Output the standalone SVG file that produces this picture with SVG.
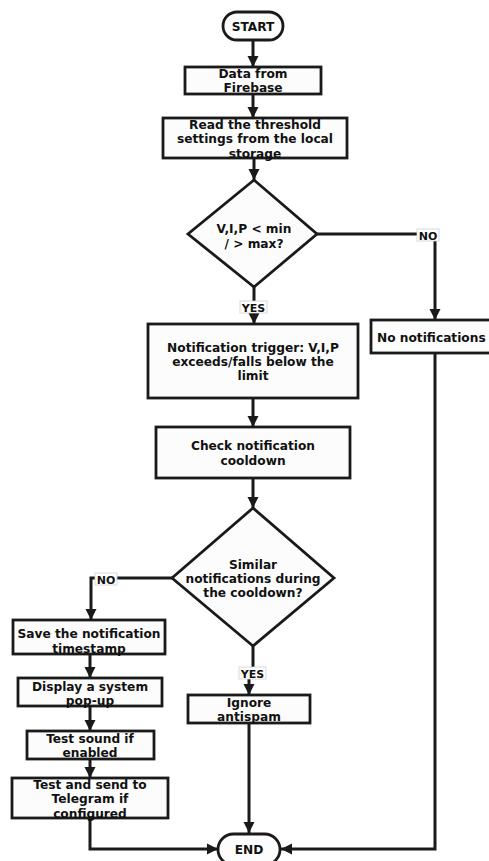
<svg xmlns="http://www.w3.org/2000/svg" width="489" height="861" viewBox="0 0 489 861">
<defs>
<marker id="arr" markerUnits="userSpaceOnUse" markerWidth="12" markerHeight="12" viewBox="0 0 12 12" refX="11" refY="6" orient="auto">
<path d="M0,0.5 L11,6 L0,11.5 Z" fill="#1a1a1a"/>
</marker>
<style>
.box{fill:#fcfcfc;stroke:#1a1a1a;stroke-width:2.8}
.t{font-family:"DejaVu Sans",Verdana,sans-serif;font-weight:bold;font-size:12.2px;fill:#111;text-anchor:middle}
.lt{font-family:"DejaVu Sans",Verdana,sans-serif;font-weight:bold;font-size:11px;fill:#111;text-anchor:middle}
.lb{fill:#fff;stroke:#cfcfcf;stroke-width:0.8}
.c{fill:none;stroke:#1a1a1a;stroke-width:3;marker-end:url(#arr)}
</style>
</defs>
<rect width="489" height="861" fill="#ffffff"/>
<g id="connectors">
<path class="c" d="M253,40 V67"/>
<path class="c" d="M253,94 V118"/>
<path class="c" d="M254,158 V180"/>
<path class="c" d="M317,234 H435 V320"/>
<path class="c" d="M254,287 V324"/>
<path class="c" d="M253,398 V427"/>
<path class="c" d="M253,478 V508"/>
<path class="c" d="M172,578 H91 V620"/>
<path class="c" d="M253,646 V673 H249 V695"/>
<path class="c" d="M90,654 V678"/>
<path class="c" d="M90,706 V731"/>
<path class="c" d="M90,759 V778"/>
<path class="c" d="M90,818 V849 H218"/>
<path class="c" d="M249,723 V833"/>
<path class="c" d="M435,353 V849 H281"/>
</g>
<g id="label-no1"><rect class="lb" x="417" y="229" width="22" height="12"/><text class="lt" x="428" y="239.5">NO</text></g>
<g id="label-yes1"><rect class="lb" x="240" y="301" width="27" height="12"/><text class="lt" x="253.5" y="311.5">YES</text></g>
<g id="label-no2"><rect class="lb" x="95" y="573" width="22" height="12"/><text class="lt" x="106" y="583.5">NO</text></g>
<g id="label-yes2"><rect class="lb" x="239" y="667" width="27" height="12"/><text class="lt" x="252.5" y="677.5">YES</text></g>
<g id="start"><rect class="box" x="223" y="12" width="60" height="28" rx="14"/><text class="t" x="253" y="30.5">START</text></g>
<g id="data"><rect class="box" x="185" y="67" width="136" height="27"/><text class="t" x="253" y="77.6">Data from</text><text class="t" x="253" y="91.9">Firebase</text></g>
<g id="read"><rect class="box" x="163" y="118" width="184" height="40"/><text class="t" x="255" y="129">Read the threshold</text><text class="t" x="255" y="143.3">settings from the local</text><text class="t" x="255" y="157.6">storage</text></g>
<g id="decision1"><polygon class="box" points="254,180 317,234 254,287 188,234"/><text class="t" x="254" y="233.2">V,I,P &lt; min</text><text class="t" x="254" y="247.5">/ &gt; max?</text></g>
<g id="nonotif"><rect class="box" x="371" y="320" width="130" height="33"/><text class="t" x="377" y="341.5" style="text-anchor:start">No notifications</text></g>
<g id="trigger"><rect class="box" x="148" y="324" width="210" height="74"/><text class="t" x="253" y="351.7">Notification trigger: V,I,P</text><text class="t" x="253" y="366">exceeds/falls below the</text><text class="t" x="253" y="380.3">limit</text></g>
<g id="check"><rect class="box" x="156" y="427" width="194" height="51"/><text class="t" x="253" y="450.2">Check notification</text><text class="t" x="253" y="464.5">cooldown</text></g>
<g id="decision2"><polygon class="box" points="253,508 334,578 253,646 172,578"/><text class="t" x="253" y="568.5">Similar</text><text class="t" x="253" y="582.8">notifications during</text><text class="t" x="253" y="597.1">the cooldown?</text></g>
<g id="save"><rect class="box" x="13" y="620" width="152" height="34"/><text class="t" x="89" y="638.2">Save the notification</text><text class="t" x="89" y="652.5">timestamp</text></g>
<g id="display"><rect class="box" x="18" y="678" width="144" height="28"/><text class="t" x="90" y="690.7">Display a system</text><text class="t" x="90" y="705">pop-up</text></g>
<g id="ignore"><rect class="box" x="188" y="695" width="122" height="28"/><text class="t" x="249" y="706.7">Ignore</text><text class="t" x="249" y="721">antispam</text></g>
<g id="sound"><rect class="box" x="27" y="731" width="127" height="28"/><text class="t" x="90" y="742.7">Test sound if</text><text class="t" x="90" y="757">enabled</text></g>
<g id="telegram"><rect class="box" x="12" y="778" width="156" height="40"/><text class="t" x="90" y="789">Test and send to</text><text class="t" x="90" y="803.3">Telegram if</text><text class="t" x="90" y="817.6">configured</text></g>
<g id="end"><rect class="box" x="218" y="834" width="62" height="31" rx="15.5"/><text class="t" x="249" y="853.5">END</text></g>
</svg>
